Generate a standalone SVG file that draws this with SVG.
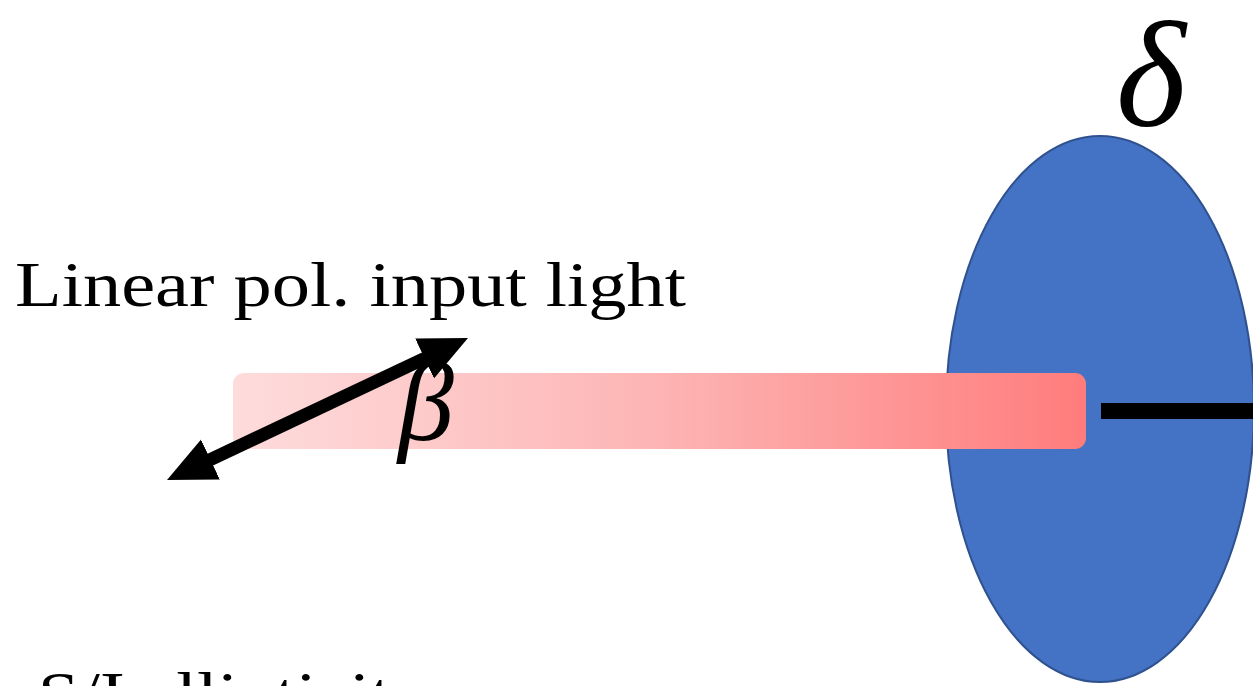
<svg xmlns="http://www.w3.org/2000/svg" width="1253" height="686" viewBox="0 0 1253 686">
<defs>
<linearGradient id="beam" x1="0" y1="0" x2="1" y2="0">
<stop offset="0" stop-color="#FEDCDC"/>
<stop offset="0.5" stop-color="#FDB4B4"/>
<stop offset="1" stop-color="#FF7C7C"/>
</linearGradient>
<marker id="head" markerUnits="userSpaceOnUse" markerWidth="50" markerHeight="46" viewBox="0 0 50 46" refX="3" refY="23" orient="auto-start-reverse">
<path d="M0,1 L48,23 L0,45 z" fill="#000"/>
</marker>
<style>
.txt{font-family:"Liberation Serif","Times New Roman",serif;fill:#000}
.math{font-family:"Liberation Serif","Times New Roman",serif;font-style:italic;fill:#000}
</style>
</defs>
<rect width="1253" height="686" fill="#fff"/>
<g id="sample">
<ellipse cx="1100" cy="409" rx="154" ry="273" fill="#4472C4" stroke="#2F528F" stroke-width="2"/>
</g>
<g id="beam-bar">
<rect x="233" y="373" width="853" height="76" rx="11" fill="url(#beam)"/>
</g>
<g id="axis">
<rect x="1101" y="403" width="152" height="16" fill="#000"/>
</g>
<g id="connectors">
<line x1="207.7" y1="460.8" x2="427.3" y2="357.2" stroke="#000" stroke-width="13" marker-start="url(#head)" marker-end="url(#head)"/>
</g>
<g id="labels">
<text class="txt" x="15" y="306" font-size="64" textLength="671" lengthAdjust="spacingAndGlyphs">Linear pol. input light</text>
<text class="math" x="398" y="440" font-size="112">β</text>
<text class="math" x="1116" y="126" font-size="150">δ</text>
<text class="txt" x="38" y="716" font-size="64" textLength="390" lengthAdjust="spacingAndGlyphs">S/I ellipticity</text>
</g>
</svg>
